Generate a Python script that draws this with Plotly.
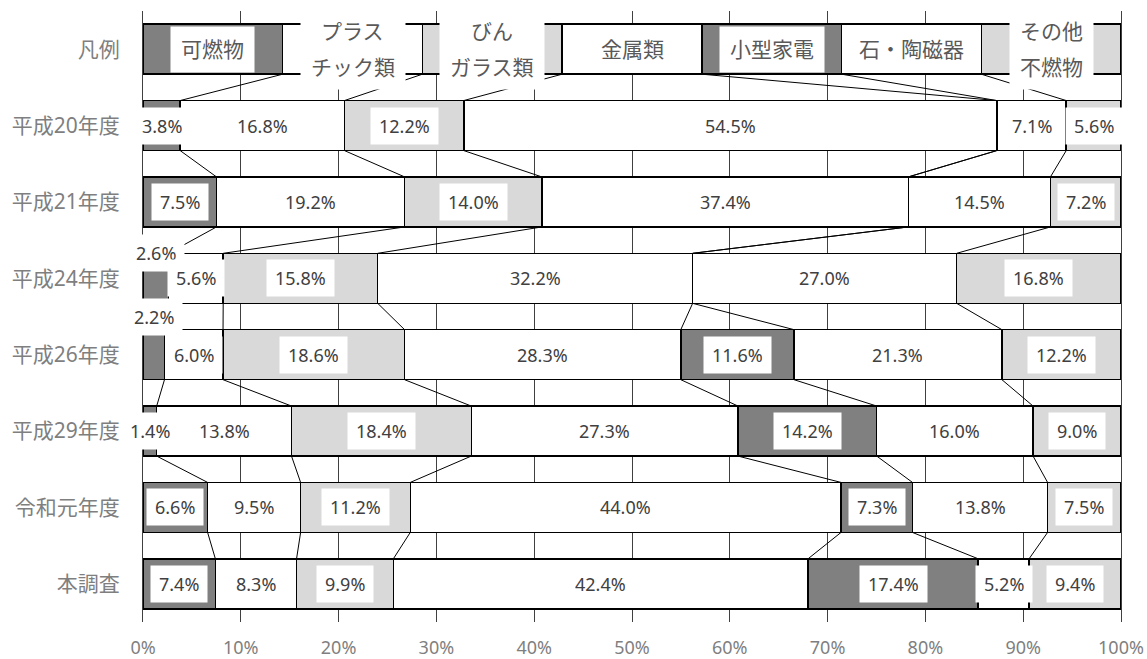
import plotly.graph_objects as go

# ---------------- data ----------------
categories = ['可燃物', 'プラスチック類', 'びんガラス類', '金属類', '小型家電', '石・陶磁器', 'その他不燃物']
legend_label_lines = [['可燃物'], ['プラス', 'チック類'], ['びん', 'ガラス類'], ['金属類'],
                      ['小型家電'], ['石・陶磁器'], ['その他', '不燃物']]
row_labels = ['凡例', '平成20年度', '平成21年度', '平成24年度', '平成26年度', '平成29年度', '令和元年度', '本調査']
x_tick_values = [0, 10, 20, 30, 40, 50, 60, 70, 80, 90, 100]
x_tick_labels = ['0%', '10%', '20%', '30%', '40%', '50%', '60%', '70%', '80%', '90%', '100%']

# share of each category (%), rows: 平成20, 平成21, 平成24, 平成26, 平成29, 令和元, 本調査
kanen = [3.8, 7.5, 2.6, 2.2, 1.4, 6.6, 7.4]
plastic = [16.8, 19.2, 5.6, 6.0, 13.8, 9.5, 8.3]
bin_glass = [12.2, 14.0, 15.8, 18.6, 18.4, 11.2, 9.9]
kinzoku = [54.5, 37.4, 32.2, 28.3, 27.3, 44.0, 42.4]
kogata_kaden = [0.0, 0.0, 0.0, 11.6, 14.2, 7.3, 17.4]
ishi_touji = [7.1, 14.5, 27.0, 21.3, 16.0, 13.8, 5.2]
sonota = [5.6, 7.2, 16.8, 12.2, 9.0, 7.5, 9.4]
legend_row_share = [1, 1, 1, 1, 1, 1, 1]   # the 凡例 row: equal parts

series = [kanen, plastic, bin_glass, kinzoku, kogata_kaden, ishi_touji, sonota]

# ---------------- styles ----------------
fills = ['#808080', '#FFFFFF', '#D9D9D9', '#FFFFFF', '#808080', '#FFFFFF', '#D9D9D9']
FONT = 'Noto Sans, Noto Sans CJK JP, sans-serif'
BAR_W = 0.655
HW = BAR_W / 2

rows = list(range(len(row_labels)))
n_rows = len(rows)

# full matrix: row 0 = legend row
matrix = [[legend_row_share[i]] + series[i] for i in range(len(categories))]

fig = go.Figure()
for i, cat in enumerate(categories):
    fig.add_trace(go.Bar(
        y=rows, x=matrix[i], orientation='h', name=cat,
        width=BAR_W,
        marker=dict(color=fills[i], line=dict(color='#000000', width=1.5)),
        hoverinfo='skip'
    ))

# normalised cumulative boundaries per row
norm = []
for r in rows:
    tot = sum(matrix[i][r] for i in range(len(categories)))
    norm.append([matrix[i][r] / tot * 100 for i in range(len(categories))])
cum = []
for r in rows:
    c, acc = [], 0.0
    for v in norm[r]:
        acc += v
        c.append(acc)
    cum.append(c)

# series lines connecting segment boundaries between consecutive rows
lx, ly = [], []
for r in range(n_rows - 1):
    for k in range(len(categories) - 1):
        lx += [cum[r][k], cum[r + 1][k], None]
        ly += [r + HW, r + 1 - HW, None]
fig.add_trace(go.Scatter(x=lx, y=ly, mode='lines', line=dict(color='#000000', width=1),
                         hoverinfo='skip', showlegend=False))

annotations = []

# data labels
label_y_override = {(3, 0): 3 - HW, (4, 0): 3.5}
for r in rows[1:]:
    start = 0.0
    for i in range(len(categories)):
        v = matrix[i][r]
        nv = norm[r][i]
        if v > 0:
            y = label_y_override.get((r, i), r)
            annotations.append(dict(
                x=start + nv / 2, y=y, xref='x', yref='y', text=f'{v:.1f}%',
                showarrow=False, bgcolor='#FFFFFF', borderpad=8, height=20,
                font=dict(family=FONT, size=18, color='#404040')
            ))
        start += nv

# legend row labels
start = 0.0
for i, lines in enumerate(legend_label_lines):
    nv = norm[0][i]
    xc = start + nv / 2
    maxlen = max(len(t) for t in lines)
    annotations.append(dict(
        x=xc, y=0, xref='x', yref='y', text=' ', showarrow=False,
        bgcolor='#FFFFFF', borderpad=10, width=21 * maxlen,
        height=25 if len(lines) == 1 else 60,
        font=dict(family=FONT, size=21, color='#595959')
    ))
    if len(lines) == 1:
        shifts = [0]
    else:
        shifts = [18, -18]
    for t, s in zip(lines, shifts):
        annotations.append(dict(
            x=xc, y=0, xref='x', yref='y', text=t, showarrow=False, yshift=s,
            font=dict(family=FONT, size=21, color='#595959')
        ))
    start += nv

fig.update_layout(
    width=1147, height=659,
    autosize=False,
    margin=dict(l=143, r=26, t=11, b=37, autoexpand=False),
    barmode='stack', barnorm='percent',
    plot_bgcolor='#FFFFFF', paper_bgcolor='#FFFFFF',
    showlegend=False,
    annotations=annotations,
    xaxis=dict(range=[0, 100], tickvals=x_tick_values, ticktext=x_tick_labels,
               showgrid=True, gridcolor='#404040', gridwidth=1, zeroline=False,
               showline=False, ticks='outside', ticklen=9, tickcolor='rgba(0,0,0,0)',
               automargin=False,
               tickfont=dict(family=FONT, size=18, color='#7F7F7F'), fixedrange=True),
    yaxis=dict(range=[n_rows - 0.5, -0.5], tickvals=rows, ticktext=row_labels,
               showgrid=False, zeroline=False, showline=True, mirror=True,
               linecolor='#404040', linewidth=1, automargin=False,
               ticks='outside', ticklen=18, tickcolor='rgba(0,0,0,0)',
               tickfont=dict(family=FONT, size=21, color='#7F7F7F'), fixedrange=True),
)

fig.write_html('out.html')
